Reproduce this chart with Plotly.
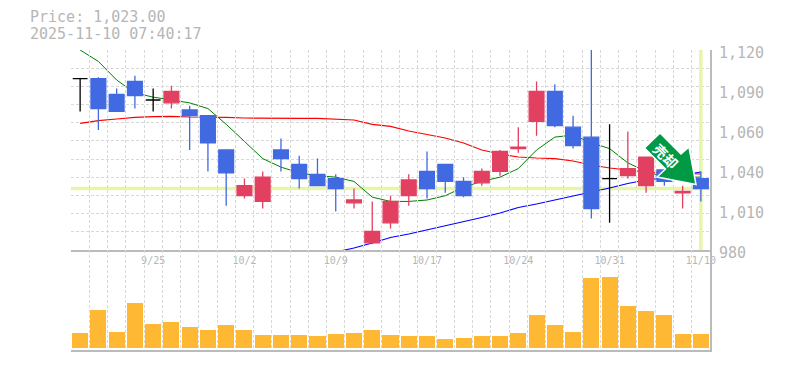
import plotly.graph_objects as go

dates = ["9/18","9/19","9/22","9/24","9/25","9/26","9/29","9/30","10/1","10/2","10/3","10/6","10/7","10/8","10/9",
         "10/10","10/14","10/15","10/16","10/17","10/20","10/21","10/22","10/23","10/24","10/27","10/28","10/29",
         "10/30","10/31","11/4","11/5","11/6","11/7","11/10"]
opens  = [1100,1100,1089,1098,1085,1083,1078,1074,1050,1018,1014,1050,1040,1033,1030,1013,985,999,1018,1035,1040,1028,1027,1035,1051,1070,1091,1066,1059,1030,1032,1025,1036,1020,1030]
closes = [1100,1079,1077,1088,1085,1091,1074,1055,1034,1025,1031,1044,1030,1025,1023,1015,993,1014,1029,1023,1028,1018,1035,1049,1052,1091,1067,1053,1009,1030,1037,1045,1028,1021,1023]
highs  = [1100,1101,1093,1102,1093,1095,1081,1074,1050,1030,1035,1058,1046,1044,1033,1023,1014,1018,1033,1049,1040,1031,1037,1050,1066,1098,1096,1074,1125,1068,1063,1045,1036,1025,1035]
lows   = [1077,1064,1077,1079,1077,1079,1050,1035,1011,1016,1009,1035,1023,1025,1007,1009,984,995,1011,1016,1020,1017,1025,1032,1048,1060,1066,1051,1002,999,1030,1020,1025,1009,1014]
volume = [15,38,16,45,24,26,21,18,23,18,13,13,13,12,14,15,18,13,12,12,9,10,12,12,15,33,23,16,70,71,42,37,33,14,14]
ma_short = [1120,1112,1099,1090,1087,1085,1083,1079,1068,1056,1044,1038,1034,1032,1031,1028,1017,1014,1014,1015,1018,1024,1028,1031,1037,1050,1059,1060.5,1055,1051,1041,1035,1031,1031,1031]
ma_mid = [1068.7,1070.6,1071.7,1072.9,1073.3,1073.6,1073.1,1073.1,1072.8,1072.4,1072.2,1072.2,1072.2,1072.2,1071.8,1071,1067.9,1066.5,1063.3,1060.9,1058.4,1054.9,1050,1047.2,1045.1,1044.4,1044,1042.3,1039.5,1037.4,1036,1034.6,1033.9,1033.6,1033.2]
ma_long = [None]*14 + [978.6,981.4,984.9,988.8,991.2,994,996.8,1000,1002.8,1005.9,1009.8,1012.2,1015,1017.5,1020.3,1023.4,1026.6,1029,1030.4,1032.5,1034.6]
last_price = 1023
price_ticks = [1120,1092,1064,1036,1008,980]
price_labels = ["1,120","1,090","1,060","1,040","1,010","980"]
date_ticks = ["9/25","10/2","10/9","10/17","10/24","10/31","11/10"]

RED, BLUE, BLACK = "#E24060", "#4169E1", "#000000"
GRID, AXIS, TXT = "#d8d8d8", "#bbbbbb", "#b6b6b6"
MARK = "#E5F5AA"
MONO = "DejaVu Sans Mono"
idx = list(range(len(dates)))
half = [i - 0.5 for i in range(len(dates) + 1)]
XR = [-0.5, len(dates) - 0.5]

fig = go.Figure()
# last-price markers
fig.add_trace(go.Scatter(x=XR, y=[last_price]*2, mode="lines", line=dict(color=MARK, width=3.5), hoverinfo="skip"))
fig.add_trace(go.Scatter(x=[idx[-1]]*2, y=[980, 1120], mode="lines", line=dict(color=MARK, width=3.5), hoverinfo="skip"))
# moving averages
for vals, col, w in [(ma_short, "#008000", 1), (ma_mid, "#ff0000", 1.2), (ma_long, "#0000ff", 1.1)]:
    fig.add_trace(go.Scatter(x=idx, y=vals, mode="lines", line=dict(color=col, width=w), hoverinfo="skip"))
# candles: on the overlaying x3 so they paint above the lines
groups = [(RED, [i for i in idx if closes[i] > opens[i]]),
          (BLUE, [i for i in idx if closes[i] < opens[i]]),
          (BLACK, [i for i in idx if closes[i] == opens[i]])]
for col, g in groups:
    side = dict(line=dict(color=col, width=1.3), fillcolor=col)
    fig.add_trace(go.Candlestick(x=[dates[i] for i in g], open=[opens[i] for i in g], high=[highs[i] for i in g],
                                 low=[lows[i] for i in g], close=[closes[i] for i in g],
                                 increasing=side, decreasing=side, whiskerwidth=0, hoverinfo="skip",
                                 xaxis="x3", yaxis="y"))
# volume
fig.add_trace(go.Bar(x=idx, y=volume, marker=dict(color="#FFB833", line=dict(width=0)), width=0.88,
                     xaxis="x2", yaxis="y2", hoverinfo="skip"))
# carrier for the price label axis
fig.add_trace(go.Scatter(x=idx, y=closes, mode="lines", line=dict(width=0), opacity=0, xaxis="x", yaxis="y3", hoverinfo="skip"))

PW, PH = 639, 300
def px(x, y):
    return (x - 71) / PW, (350 - y) / PH
arrow = [(660, 133), (644.5, 148), (665.5, 169), (657, 177), (696, 184.5), (689, 147), (681, 154)]
pts = [px(*p) for p in arrow]
path = "M " + " L ".join(f"{a:.4f} {b:.4f}" for a, b in pts) + " Z"
ax, ay = px(666, 156)

grid = dict(showgrid=True, gridcolor=GRID, griddash="3px,2px", gridwidth=1, zeroline=False)
fig.update_layout(
    width=785, height=370, margin=dict(l=71, r=75, t=50, b=20), paper_bgcolor="white", plot_bgcolor="rgba(0,0,0,0)",
    showlegend=False, boxgap=0.19, boxgroupgap=0, bargap=0,
    xaxis=dict(type="linear", range=XR, tickmode="array", tickvals=half, showticklabels=False, ticks="",
               rangeslider=dict(visible=False), anchor="y", **grid),
    xaxis2=dict(type="linear", range=XR, tickmode="array", tickvals=half, showticklabels=False, ticks="",
                anchor="y2", showline=True, linecolor=AXIS, linewidth=2, **grid),
    xaxis3=dict(type="category", categoryorder="array", categoryarray=dates, range=XR, overlaying="x", anchor="y",
                rangeslider=dict(visible=False),
                tickmode="array", tickvals=date_ticks, ticktext=date_ticks, showgrid=False, zeroline=False,
                showline=True, linecolor=AXIS, linewidth=2, ticks="", tickangle=0,
                tickfont=dict(family=MONO, size=10, color=TXT)),
    yaxis=dict(domain=[1/3, 1], range=[980, 1120], tickmode="array",
               tickvals=[980 + 140 * i / 11 for i in range(12)], showticklabels=False, ticks="", side="right",
               anchor="x", showline=True, linecolor=AXIS, linewidth=2, **grid),
    yaxis2=dict(domain=[0, 1/3], range=[-2, 98], showgrid=False, zeroline=False, showticklabels=False, ticks="",
                side="right", anchor="x2", showline=True, linecolor=AXIS, linewidth=2),
    yaxis3=dict(domain=[(350 - 260) / PH, 1], range=[975.1, 1122.1], side="right", anchor="x",
                tickmode="array", tickvals=price_ticks, ticktext=price_labels, showgrid=False, zeroline=False,
                showline=False, ticks="outside", ticklen=5, tickcolor="rgba(0,0,0,0)",
                tickfont=dict(family=MONO, size=15, color=TXT)),
    shapes=[dict(type="path", xref="paper", yref="paper", path=path, fillcolor="#009944",
                 line=dict(color="white", width=1.5), layer="above")],
    annotations=[
        dict(xref="paper", yref="paper", x=px(28, 0)[0], y=px(0, 16.5)[1], text="Price: 1,023.00", showarrow=False,
             xanchor="left", yanchor="middle", font=dict(family=MONO, size=15, color=TXT)),
        dict(xref="paper", yref="paper", x=px(28, 0)[0], y=px(0, 34)[1], text="2025-11-10 07:40:17", showarrow=False,
             xanchor="left", yanchor="middle", font=dict(family=MONO, size=15, color=TXT)),
        dict(xref="paper", yref="paper", x=ax, y=ay, text="<b>売却</b>", textangle=45, showarrow=False,
             xanchor="center", yanchor="middle", font=dict(family="Noto Sans CJK JP", size=14, color="white")),
    ],
)
fig.write_html("out.html", config=dict(displayModeBar=False),
               post_script="document.body.style.margin='0';document.body.style.overflow='hidden';")
